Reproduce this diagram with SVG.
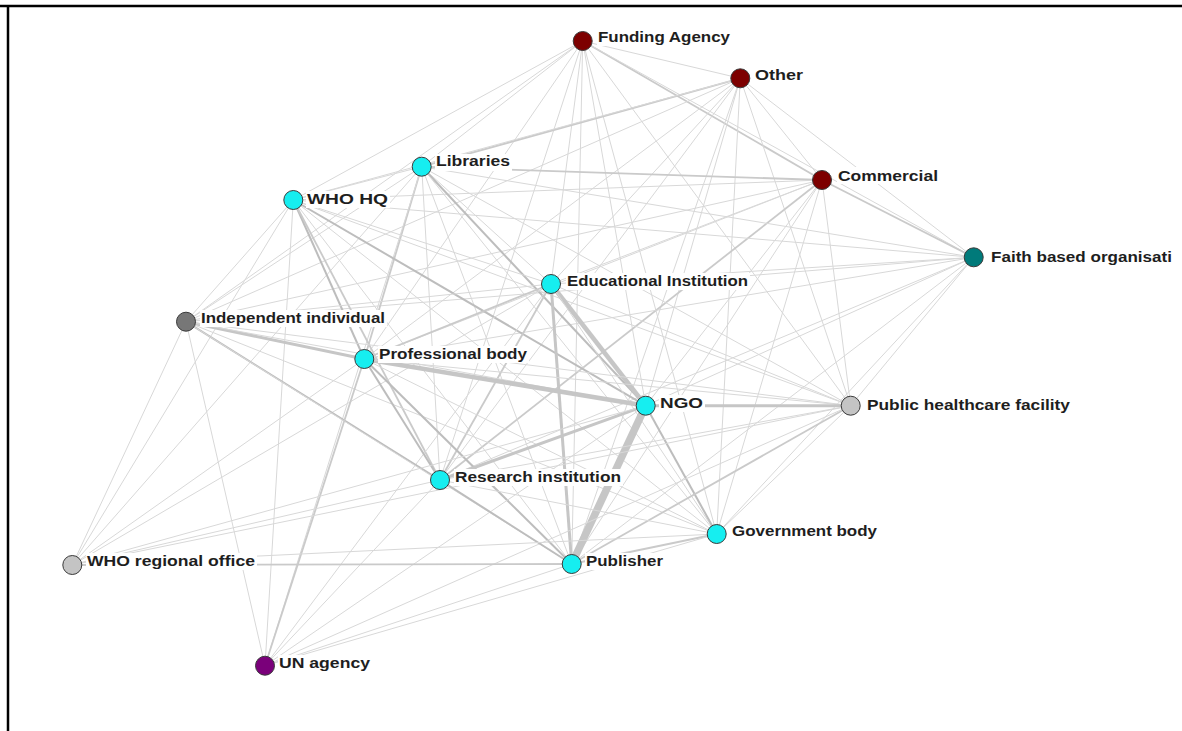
<svg xmlns="http://www.w3.org/2000/svg" width="1182" height="731" viewBox="0 0 1182 731">
  <style>
    .e { stroke: #d8d8d8; stroke-width: 1; fill: none; }
    .m { stroke: #cacaca; stroke-width: 1.8; fill: none; }
    .d { stroke: #bdbdbd; stroke-width: 2; fill: none; }
    .h { stroke: #c6c6c6; fill: none; }
    .n { stroke: #3a3a3a; stroke-width: 1; }
    .cy { fill: #16eef0; }
    .rd { fill: #7d0000; }
    .tl { fill: #007a7a; }
    .gy { fill: #777777; }
    .lg { fill: #c4c4c4; }
    .pp { fill: #7a007a; }
    .bg { fill: #ffffff; }
    text { font-family: "Liberation Sans", Arial, sans-serif; font-size: 14.5px; font-weight: bold; fill: #1e1e1e; }
  </style>

  <!-- frame -->
  <line x1="0" y1="6" x2="1182" y2="6" stroke="#000" stroke-width="2.5"/>
  <line x1="8" y1="5" x2="8" y2="731" stroke="#000" stroke-width="2.5"/>

  <g id="connectors">
    <!-- Funding Agency -->
    <line class="e" x1="582.7" y1="41" x2="740.3" y2="78.3"/>
    <line class="m" x1="582.7" y1="41" x2="822" y2="180"/>
    <line class="e" x1="582.7" y1="41" x2="973.7" y2="257.3"/>
    <line class="e" x1="582.7" y1="41" x2="421.7" y2="166.7"/>
    <line class="e" x1="582.7" y1="41" x2="293.3" y2="200"/>
    <line class="e" x1="582.7" y1="41" x2="551" y2="284"/>
    <line class="e" x1="582.7" y1="41" x2="186" y2="321.7"/>
    <line class="e" x1="582.7" y1="41" x2="364.3" y2="359"/>
    <line class="e" x1="582.7" y1="41" x2="645.7" y2="405.7"/>
    <line class="e" x1="582.7" y1="41" x2="850.7" y2="405.7"/>
    <line class="e" x1="582.7" y1="41" x2="440" y2="480"/>
    <line class="e" x1="582.7" y1="41" x2="716.7" y2="534"/>
    <line class="e" x1="582.7" y1="41" x2="571.7" y2="564"/>
    <!-- Other -->
    <line class="e" x1="740.3" y1="78.3" x2="822" y2="180"/>
    <line class="e" x1="740.3" y1="78.3" x2="973.7" y2="257.3"/>
    <line class="m" x1="740.3" y1="78.3" x2="421.7" y2="166.7"/>
    <line class="e" x1="740.3" y1="78.3" x2="293.3" y2="200"/>
    <line class="e" x1="740.3" y1="78.3" x2="551" y2="284"/>
    <line class="e" x1="740.3" y1="78.3" x2="186" y2="321.7"/>
    <line class="e" x1="740.3" y1="78.3" x2="364.3" y2="359"/>
    <line class="e" x1="740.3" y1="78.3" x2="645.7" y2="405.7"/>
    <line class="e" x1="740.3" y1="78.3" x2="850.7" y2="405.7"/>
    <line class="e" x1="740.3" y1="78.3" x2="440" y2="480"/>
    <line class="e" x1="740.3" y1="78.3" x2="716.7" y2="534"/>
    <line class="e" x1="740.3" y1="78.3" x2="571.7" y2="564"/>
    <!-- Commercial -->
    <line class="m" x1="822" y1="180" x2="973.7" y2="257.3"/>
    <line class="m" x1="822" y1="180" x2="421.7" y2="166.7"/>
    <line class="e" x1="822" y1="180" x2="293.3" y2="200"/>
    <line class="e" x1="822" y1="180" x2="551" y2="284"/>
    <line class="e" x1="822" y1="180" x2="186" y2="321.7"/>
    <line class="e" x1="822" y1="180" x2="364.3" y2="359"/>
    <line class="e" x1="822" y1="180" x2="645.7" y2="405.7"/>
    <line class="e" x1="822" y1="180" x2="850.7" y2="405.7"/>
    <line class="m" x1="822" y1="180" x2="440" y2="480"/>
    <line class="e" x1="822" y1="180" x2="716.7" y2="534"/>
    <line class="e" x1="822" y1="180" x2="571.7" y2="564"/>
    <!-- Faith based organisation -->
    <line class="e" x1="973.7" y1="257.3" x2="421.7" y2="166.7"/>
    <line class="e" x1="973.7" y1="257.3" x2="293.3" y2="200"/>
    <line class="e" x1="973.7" y1="257.3" x2="551" y2="284"/>
    <line class="e" x1="973.7" y1="257.3" x2="186" y2="321.7"/>
    <line class="e" x1="973.7" y1="257.3" x2="364.3" y2="359"/>
    <line class="e" x1="973.7" y1="257.3" x2="645.7" y2="405.7"/>
    <line class="e" x1="973.7" y1="257.3" x2="850.7" y2="405.7"/>
    <line class="e" x1="973.7" y1="257.3" x2="440" y2="480"/>
    <line class="e" x1="973.7" y1="257.3" x2="716.7" y2="534"/>
    <line class="e" x1="973.7" y1="257.3" x2="571.7" y2="564"/>
    <!-- Libraries -->
    <line class="e" x1="421.7" y1="166.7" x2="293.3" y2="200"/>
    <line class="e" x1="421.7" y1="166.7" x2="551" y2="284"/>
    <line class="e" x1="421.7" y1="166.7" x2="186" y2="321.7"/>
    <line class="m" x1="421.7" y1="166.7" x2="364.3" y2="359"/>
    <line class="d" x1="421.7" y1="166.7" x2="645.7" y2="405.7"/>
    <line class="e" x1="421.7" y1="166.7" x2="850.7" y2="405.7"/>
    <line class="e" x1="421.7" y1="166.7" x2="440" y2="480"/>
    <line class="e" x1="421.7" y1="166.7" x2="716.7" y2="534"/>
    <line class="e" x1="421.7" y1="166.7" x2="571.7" y2="564"/>
    <line class="e" x1="421.7" y1="166.7" x2="72.3" y2="565"/>
    <line class="e" x1="421.7" y1="166.7" x2="265" y2="665.7"/>
    <!-- WHO HQ -->
    <line class="e" x1="293.3" y1="200" x2="551" y2="284"/>
    <line class="e" x1="293.3" y1="200" x2="186" y2="321.7"/>
    <line class="d" x1="293.3" y1="200" x2="364.3" y2="359"/>
    <line class="d" x1="293.3" y1="200" x2="645.7" y2="405.7" stroke-width="2.5"/>
    <line class="e" x1="293.3" y1="200" x2="850.7" y2="405.7"/>
    <line class="m" x1="293.3" y1="200" x2="440" y2="480"/>
    <line class="e" x1="293.3" y1="200" x2="716.7" y2="534"/>
    <line class="e" x1="293.3" y1="200" x2="571.7" y2="564"/>
    <line class="e" x1="293.3" y1="200" x2="72.3" y2="565"/>
    <line class="e" x1="293.3" y1="200" x2="265" y2="665.7"/>
    <!-- Educational Institution -->
    <line class="e" x1="551" y1="284" x2="186" y2="321.7"/>
    <line class="m" x1="551" y1="284" x2="364.3" y2="359"/>
    <line class="h" x1="551" y1="284" x2="645.7" y2="405.7" stroke-width="4.5"/>
    <line class="e" x1="551" y1="284" x2="850.7" y2="405.7"/>
    <line class="m" x1="551" y1="284" x2="440" y2="480"/>
    <line class="e" x1="551" y1="284" x2="716.7" y2="534"/>
    <line class="h" x1="551" y1="284" x2="571.7" y2="564" stroke-width="3"/>
    <line class="e" x1="551" y1="284" x2="72.3" y2="565"/>
    <line class="e" x1="551" y1="284" x2="265" y2="665.7"/>
    <!-- Independent individual -->
    <line class="h" x1="186" y1="321.7" x2="364.3" y2="359" stroke-width="3"/>
    <line class="e" x1="186" y1="321.7" x2="645.7" y2="405.7"/>
    <line class="e" x1="186" y1="321.7" x2="850.7" y2="405.7"/>
    <line class="d" x1="186" y1="321.7" x2="440" y2="480"/>
    <line class="e" x1="186" y1="321.7" x2="716.7" y2="534"/>
    <line class="e" x1="186" y1="321.7" x2="571.7" y2="564"/>
    <line class="e" x1="186" y1="321.7" x2="72.3" y2="565"/>
    <line class="e" x1="186" y1="321.7" x2="265" y2="665.7"/>
    <!-- Professional body -->
    <line class="h" x1="364.3" y1="359" x2="645.7" y2="405.7" stroke-width="4.5"/>
    <line class="e" x1="364.3" y1="359" x2="850.7" y2="405.7"/>
    <line class="d" x1="364.3" y1="359" x2="440" y2="480"/>
    <line class="e" x1="364.3" y1="359" x2="716.7" y2="534"/>
    <line class="d" x1="364.3" y1="359" x2="571.7" y2="564"/>
    <line class="e" x1="364.3" y1="359" x2="72.3" y2="565"/>
    <line class="m" x1="364.3" y1="359" x2="265" y2="665.7"/>
    <!-- NGO -->
    <line class="h" x1="645.7" y1="405.7" x2="850.7" y2="405.7" stroke-width="3"/>
    <line class="h" x1="645.7" y1="405.7" x2="440" y2="480" stroke-width="3"/>
    <line class="d" x1="645.7" y1="405.7" x2="716.7" y2="534"/>
    <line class="h" x1="645.7" y1="405.7" x2="571.7" y2="564" stroke-width="7.5"/>
    <line class="e" x1="645.7" y1="405.7" x2="72.3" y2="565"/>
    <line class="e" x1="645.7" y1="405.7" x2="265" y2="665.7"/>
    <!-- Public healthcare facility -->
    <line class="e" x1="850.7" y1="405.7" x2="440" y2="480"/>
    <line class="e" x1="850.7" y1="405.7" x2="716.7" y2="534"/>
    <line class="m" x1="850.7" y1="405.7" x2="571.7" y2="564"/>
    <line class="e" x1="850.7" y1="405.7" x2="72.3" y2="565"/>
    <line class="e" x1="850.7" y1="405.7" x2="265" y2="665.7"/>
    <!-- Research institution -->
    <line class="e" x1="440" y1="480" x2="716.7" y2="534"/>
    <line class="d" x1="440" y1="480" x2="571.7" y2="564"/>
    <line class="e" x1="440" y1="480" x2="72.3" y2="565"/>
    <line class="e" x1="440" y1="480" x2="265" y2="665.7"/>
    <!-- Government body -->
    <line class="m" x1="716.7" y1="534" x2="571.7" y2="564"/>
    <line class="e" x1="716.7" y1="534" x2="72.3" y2="565"/>
    <line class="e" x1="716.7" y1="534" x2="265" y2="665.7"/>
    <!-- Publisher -->
    <line class="m" x1="571.7" y1="564" x2="72.3" y2="565"/>
    <line class="e" x1="571.7" y1="564" x2="265" y2="665.7"/>
  </g>

  <g id="node-funding-agency">
    <rect class="bg" x="597" y="29" width="135" height="17"/>
    <circle class="n rd" cx="582.7" cy="41" r="9.5"/>
    <text x="598" y="42" textLength="132" lengthAdjust="spacingAndGlyphs">Funding Agency</text>
  </g>
  <g id="node-other">
    <rect class="bg" x="754" y="66" width="51" height="17"/>
    <circle class="n rd" cx="740.3" cy="78.3" r="9.5"/>
    <text x="755" y="80" textLength="48" lengthAdjust="spacingAndGlyphs">Other</text>
  </g>
  <g id="node-commercial">
    <rect class="bg" x="837" y="167" width="103" height="17"/>
    <circle class="n rd" cx="822" cy="180" r="9.5"/>
    <text x="838" y="181" textLength="100" lengthAdjust="spacingAndGlyphs">Commercial</text>
  </g>
  <g id="node-faith-based">
    <rect class="bg" x="990" y="248" width="184" height="17"/>
    <circle class="n tl" cx="973.7" cy="257.3" r="9.5"/>
    <text x="991" y="262" textLength="181" lengthAdjust="spacingAndGlyphs">Faith based organisati</text>
  </g>
  <g id="node-libraries">
    <rect class="bg" x="435" y="154" width="77" height="17"/>
    <circle class="n cy" cx="421.7" cy="166.7" r="9.5"/>
    <text x="436" y="166" textLength="74" lengthAdjust="spacingAndGlyphs">Libraries</text>
  </g>
  <g id="node-who-hq">
    <rect class="bg" x="306" y="191" width="84" height="17"/>
    <circle class="n cy" cx="293.3" cy="200" r="9.5"/>
    <text x="307" y="204" textLength="81" lengthAdjust="spacingAndGlyphs">WHO HQ</text>
  </g>
  <g id="node-educational">
    <rect class="bg" x="566" y="273" width="184" height="17"/>
    <circle class="n cy" cx="551" cy="284" r="9.5"/>
    <text x="567" y="286" textLength="181" lengthAdjust="spacingAndGlyphs">Educational Institution</text>
  </g>
  <g id="node-independent">
    <rect class="bg" x="200" y="310" width="187" height="17"/>
    <circle class="n gy" cx="186" cy="321.7" r="9.5"/>
    <text x="201" y="323" textLength="184" lengthAdjust="spacingAndGlyphs">Independent individual</text>
  </g>
  <g id="node-professional">
    <rect class="bg" x="378" y="346" width="151" height="17"/>
    <circle class="n cy" cx="364.3" cy="359" r="9.5"/>
    <text x="379" y="359" textLength="148" lengthAdjust="spacingAndGlyphs">Professional body</text>
  </g>
  <g id="node-ngo">
    <rect class="bg" x="659" y="395" width="46" height="17"/>
    <circle class="n cy" cx="645.7" cy="405.7" r="9.5"/>
    <text x="660" y="408" textLength="43" lengthAdjust="spacingAndGlyphs">NGO</text>
  </g>
  <g id="node-public-healthcare">
    <rect class="bg" x="866" y="397" width="206" height="17"/>
    <circle class="n lg" cx="850.7" cy="405.7" r="9.5"/>
    <text x="867" y="410" textLength="203" lengthAdjust="spacingAndGlyphs">Public healthcare facility</text>
  </g>
  <g id="node-research">
    <rect class="bg" x="454" y="469" width="169" height="17"/>
    <circle class="n cy" cx="440" cy="480" r="9.5"/>
    <text x="455" y="482" textLength="166" lengthAdjust="spacingAndGlyphs">Research institution</text>
  </g>
  <g id="node-government">
    <rect class="bg" x="731" y="523" width="148" height="17"/>
    <circle class="n cy" cx="716.7" cy="534" r="9.5"/>
    <text x="732" y="536" textLength="145" lengthAdjust="spacingAndGlyphs">Government body</text>
  </g>
  <g id="node-publisher">
    <rect class="bg" x="585" y="553" width="80" height="17"/>
    <circle class="n cy" cx="571.7" cy="564" r="9.5"/>
    <text x="586" y="566" textLength="77" lengthAdjust="spacingAndGlyphs">Publisher</text>
  </g>
  <g id="node-who-regional">
    <rect class="bg" x="86" y="553" width="171" height="17"/>
    <circle class="n lg" cx="72.3" cy="565" r="9.5"/>
    <text x="87" y="566" textLength="168" lengthAdjust="spacingAndGlyphs">WHO regional office</text>
  </g>
  <g id="node-un-agency">
    <rect class="bg" x="278" y="655" width="94" height="17"/>
    <circle class="n pp" cx="265" cy="665.7" r="9.5"/>
    <text x="279" y="668" textLength="91" lengthAdjust="spacingAndGlyphs">UN agency</text>
  </g>
</svg>
